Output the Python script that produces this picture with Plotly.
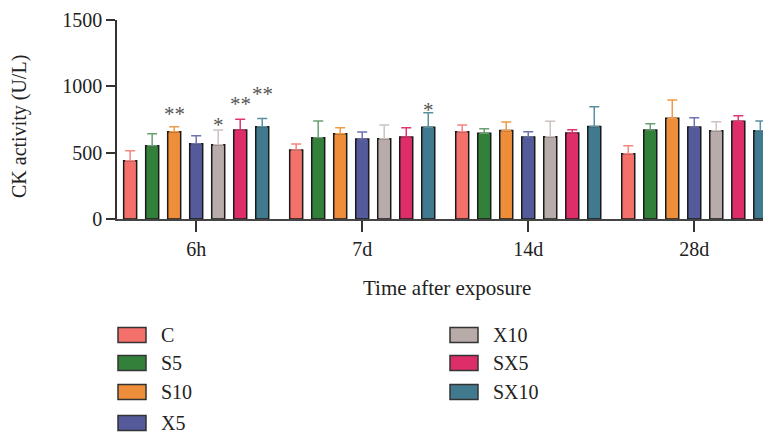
import plotly.graph_objects as go

groups = ["6h", "7d", "14d", "28d"]
series = ["C", "S5", "S10", "X5", "X10", "SX5", "SX10"]
values = {
    "C":    [439, 520, 658, 492],
    "S5":   [552, 613, 646, 671],
    "S10":  [658, 643, 668, 759],
    "X5":   [567, 603, 618, 693],
    "X10":  [560, 605, 620, 666],
    "SX5":  [671, 618, 648, 736],
    "SX10": [696, 691, 698, 666],
}
errors = {
    "C":    [76, 45, 50, 60],
    "S5":   [91, 126, 35, 47],
    "S10":  [38, 45, 63, 138],
    "X5":   [61, 53, 40, 70],
    "X10":  [111, 103, 116, 67],
    "SX5":  [80, 70, 25, 42],
    "SX10": [62, 110, 148, 72],
}
colors = ["#F4706A", "#33803B", "#EE8E3A", "#555A9A", "#B8ACAA", "#DD2E6A", "#417A8F"]
err_colors = ["#F4857F", "#6AA070", "#F09A4A", "#6E73B0", "#CCC2C0", "#E0356E", "#5A8FA0"]
# significance marks: (group index, series index, text, label height)
sig_marks = [
    (0, 2, "**", 790),
    (0, 4, "*", 710),
    (0, 5, "**", 870),
    (0, 6, "**", 940),
    (1, 6, "*", 825),
]
y_ticks = [0, 500, 1000, 1500]

FONT = "Liberation Serif"
W, H = 763, 435
L, R, T, B = 117, 0, 20, 216
pw = W - L - R
ph = H - T - B

def px_x(p):
    return (p - L) / pw

def px_y(p):
    return (H - B - p) / ph

fig = go.Figure()
for i, s in enumerate(series):
    fig.add_trace(go.Bar(
        x=list(range(len(groups))), y=values[s], name=s,
        marker=dict(color=colors[i], line=dict(color="#1a1a1a", width=1.5)),
        error_y=dict(type="data", array=errors[s], arrayminus=[0] * len(groups),
                     symmetric=False, color=err_colors[i], thickness=1.5, width=5),
        showlegend=False,
    ))

bargap = 0.072
slot = (1 - bargap) / len(series)
for g, si, txt, yv in sig_marks:
    xo = g + (si - (len(series) - 1) / 2) * slot
    fig.add_annotation(x=xo, y=yv, text=txt, showarrow=False, xref="x", yref="y",
                       font=dict(family=FONT, size=21, color="#555555"),
                       xanchor="center", yanchor="middle")

# axis titles
fig.add_annotation(xref="paper", yref="paper", x=px_x(447), y=px_y(288),
                   text="Time after exposure", showarrow=False,
                   xanchor="center", yanchor="middle",
                   font=dict(family=FONT, size=21, color="#222222"))
fig.add_annotation(xref="paper", yref="paper", x=px_x(19), y=px_y(127),
                   text="CK activity (U/L)", showarrow=False, textangle=-90,
                   xanchor="center", yanchor="middle",
                   font=dict(family=FONT, size=20, color="#222222"))

# manual legend (two columns)
col_x = [118, 450]
row_y = [335, 363, 392, 423]
per_col = 4
for i, s in enumerate(series):
    c = i // per_col
    r = i % per_col
    x0 = col_x[c]
    yc = row_y[r]
    fig.add_shape(type="rect", xref="paper", yref="paper",
                  x0=px_x(x0), x1=px_x(x0 + 28), y0=px_y(yc + 7.5), y1=px_y(yc - 7.5),
                  fillcolor=colors[i], line=dict(color="#333333", width=1.5))
    fig.add_annotation(xref="paper", yref="paper", x=px_x(x0 + 41), y=px_y(yc),
                       text=s, showarrow=False, xanchor="left", yanchor="middle",
                       font=dict(family=FONT, size=20, color="#222222"))

fig.update_layout(
    width=W, height=H,
    margin=dict(l=L, r=R, t=T, b=B, pad=0),
    paper_bgcolor="white", plot_bgcolor="white",
    barmode="group", bargap=bargap, bargroupgap=0.41,
    font=dict(family=FONT, size=20, color="#222222"),
    xaxis=dict(
        range=[-0.477, 3.414], tickmode="array",
        tickvals=list(range(len(groups))), ticktext=groups,
        showline=True, linecolor="#444444", linewidth=1.5,
        ticks="outside", ticklen=11, tickwidth=1.5, tickcolor="#333333",
        showgrid=False, zeroline=False, fixedrange=True,
        tickfont=dict(family=FONT, size=20, color="#222222"),
    ),
    yaxis=dict(
        range=[0, 1500], tickvals=y_ticks,
        showline=True, linecolor="#333333", linewidth=1.5,
        ticks="outside", ticklen=9, tickwidth=1.5, tickcolor="#333333",
        showgrid=False, zeroline=False, fixedrange=True,
        tickfont=dict(family=FONT, size=20, color="#222222"),
    ),
)

fig.write_html("out.html")
